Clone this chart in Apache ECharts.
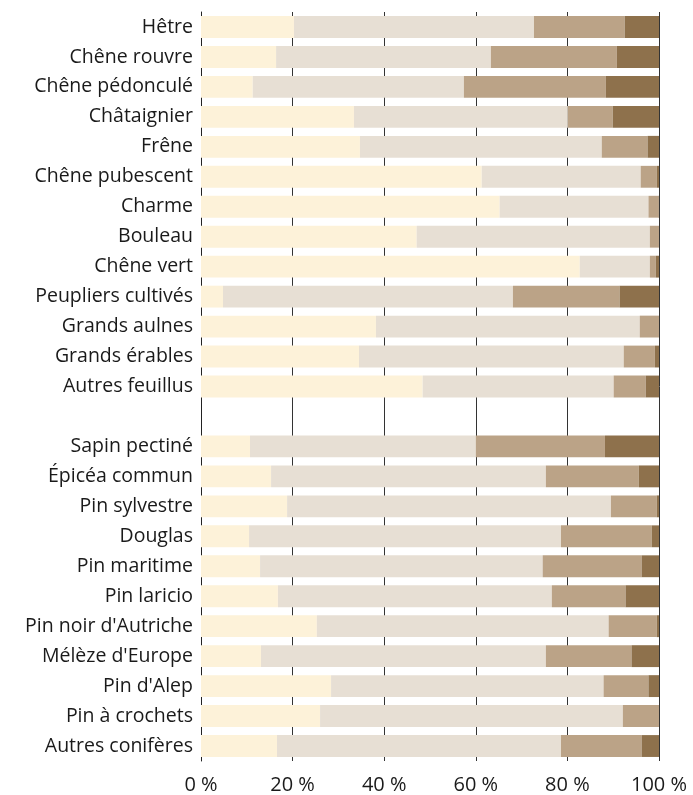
<!DOCTYPE html>
<html>
<head>
<meta charset="utf-8">
<script src="https://cdn.jsdelivr.net/npm/echarts@6/dist/echarts.min.js"></script>
<style>html,body{margin:0;padding:0;background:#fff}#chart{width:693px;height:795px}</style>
</head>
<body>
<div id="chart"></div>
<script>
const categories = ["Hêtre","Chêne rouvre","Chêne pédonculé","Châtaignier","Frêne","Chêne pubescent","Charme","Bouleau","Chêne vert","Peupliers cultivés","Grands aulnes","Grands érables","Autres feuillus","","Sapin pectiné","Épicéa commun","Pin sylvestre","Douglas","Pin maritime","Pin laricio","Pin noir d'Autriche","Mélèze d'Europe","Pin d'Alep","Pin à crochets","Autres conifères"];
const seriesA = [20.3,16.4,11.3,33.4,34.7,61.3,65.2,47.1,82.7,4.8,38.2,34.5,48.4,'-',10.7,15.3,18.8,10.5,12.9,16.8,25.3,13.1,28.4,26.0,16.6];
const seriesB = [52.4,46.9,46.1,46.7,52.8,34.7,32.5,50.9,15.3,63.3,57.6,57.8,41.7,'-',49.3,60.0,70.7,68.1,61.7,59.8,63.7,62.2,59.5,66.1,62.0];
const seriesC = [19.8,27.5,31.0,9.8,10.0,3.5,2.2,2.0,1.3,23.3,4.2,6.8,7.0,'-',28.2,20.3,10.0,19.8,21.6,16.1,10.5,18.7,9.8,7.9,17.6];
const seriesD = [7.5,9.2,11.6,10.1,2.5,0.5,0.1,0.0,0.7,8.6,0.0,0.9,2.9,'-',11.8,4.4,0.5,1.6,3.8,7.3,0.5,6.0,2.3,0.0,3.8];
const tickLabels = ["0 %","20 %","40 %","60 %","80 %","100 %"];

const colors = ['#fdf2d9','#e7dfd4','#bba387','#8e714c'];
const font = 'Open Sans';
const mk = (data, i) => ({type:'bar', stack:'s', data:data, barWidth:'73%', itemStyle:{color:colors[i]}, silent:true});

const chart = echarts.init(document.getElementById('chart'), null, {renderer:'canvas'});
chart.setOption({
  animation:false,
  grid:{left:201, right:34, top:12, bottom:33, containLabel:false},
  xAxis:{type:'value', min:0, max:100, interval:20,
    axisLine:{show:false}, axisTick:{show:false},
    splitLine:{show:true, lineStyle:{color:'#333', width:1}},
    axisLabel:{margin:14, color:'#1a1a1a', fontSize:20, fontFamily:font,
      formatter:(v)=>tickLabels[Math.round(v/20)]}},
  yAxis:{type:'category', data:categories, inverse:true,
    axisLine:{show:true, lineStyle:{color:'#222', width:1}}, axisTick:{show:false},
    axisLabel:{margin:8, color:'#1a1a1a', fontSize:19.5, fontFamily:font}},
  series:[mk(seriesA,0), mk(seriesB,1), mk(seriesC,2), mk(seriesD,3)]
});
</script>
</body>
</html>
